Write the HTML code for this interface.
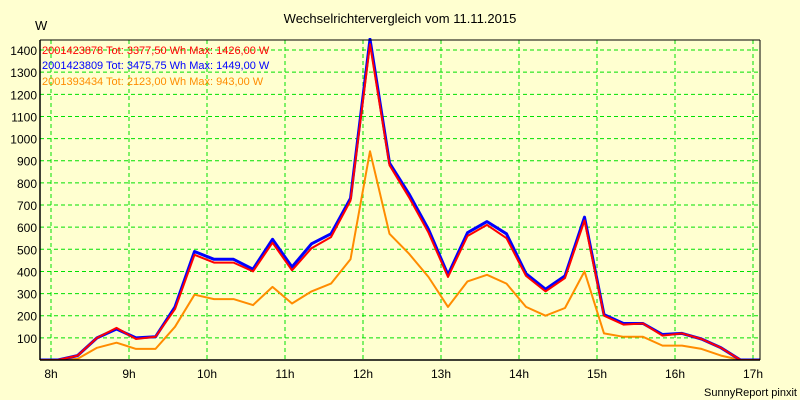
<!DOCTYPE html>
<html><head><meta charset="utf-8"><style>
body{margin:0;background:#ffffd0;}
svg{display:block;font-family:"Liberation Sans",sans-serif;}
</style></head><body>
<svg width="800" height="400" id="c">
<rect x="0" y="0" width="800" height="400" fill="#ffffd0"/>
<text x="400" y="23" text-anchor="middle" font-size="13" fill="#000">Wechselrichtervergleich vom 11.11.2015</text>
<text x="35" y="30" font-size="13" fill="#000">W</text>
<text x="797" y="396" text-anchor="end" font-size="11" fill="#000">SunnyReport pinxit</text>
<g id="grid"></g><g id="ticks"></g>
<clipPath id="cl"><rect x="40" y="38" width="720" height="322"/></clipPath>
<g id="series" clip-path="url(#cl)"></g>
<line x1="40" y1="40" x2="40" y2="360" stroke="#000" stroke-width="1.5"/>
<line x1="40" y1="360" x2="760" y2="360" stroke="#000" stroke-width="1.5"/>
<line x1="760" y1="40" x2="760" y2="360" stroke="#000" stroke-width="1"/>
<line x1="40" y1="40" x2="760" y2="40" stroke="#000" stroke-width="1"/>
<g font-size="11">
<text x="42" y="54" fill="#ff0000">2001423878 Tot: 3377,50 Wh Max: 1426,00 W</text>
<text x="42" y="69" fill="#0000ff">2001423809 Tot: 3475,75 Wh Max: 1449,00 W</text>
<text x="42" y="85" fill="#ff8c00">2001393434 Tot: 2123,00 Wh Max: 943,00 W</text>
</g>
</svg>
<script>
const hourLabels=["8h","9h","10h","11h","12h","13h","14h","15h","16h","17h"];
const yTicks=[100,200,300,400,500,600,700,800,900,1000,1100,1200,1300,1400];
const redValues=[0,0,20,100,145,95,105,230,475,440,440,400,530,405,505,555,720,1426,880,735,575,375,560,610,550,380,310,370,630,200,160,165,110,120,95,55,0,0];
const blueValues=[0,0,20,100,140,100,105,240,490,455,455,410,545,420,525,570,730,1449,890,750,590,385,575,625,570,390,320,380,645,205,165,165,115,120,95,55,0,0];
const orangeValues=[0,0,5,55,78,50,50,150,295,275,275,248,330,255,310,345,455,943,570,480,375,240,355,385,345,240,200,235,400,120,105,105,65,65,50,20,0,0];
const X0=51,HW=78,Y0=360,PY=0.2214;
const xHour=h=>X0+h*HW;
const xIdx=i=>58+(i-1)*19.5;
const yv=v=>Y0-v*PY;
const NS="http://www.w3.org/2000/svg";
const grid=document.getElementById('grid'),ticks=document.getElementById('ticks'),ser=document.getElementById('series');
function mk(tag,at,par){const e=document.createElementNS(NS,tag);for(const k in at)e.setAttribute(k,at[k]);par.appendChild(e);return e;}
hourLabels.forEach((l,i)=>{
 const g=mk('line',{x1:xHour(i),x2:xHour(i),y1:40,y2:360,stroke:'#00e000','stroke-dasharray':'4,3','stroke-width':1},grid);
 
 
 const t=mk('text',{x:xHour(i),y:378,'text-anchor':'middle','font-size':12,fill:'#000'},ticks);
 t.textContent=l;
 
 
});
yTicks.forEach(v=>{
 const g=mk('line',{x1:40,x2:760,y1:yv(v),y2:yv(v),stroke:'#00e000','stroke-dasharray':'4,3','stroke-width':1},grid);
 
 
 const t=mk('text',{x:37,y:yv(v)+5,'text-anchor':'end','font-size':12,fill:'#000'},ticks);
 t.textContent=v;
 
 
});
function line(vals,color,w,name){
 const p=vals.map((v,i)=>(i?'L':'M')+xIdx(i).toFixed(1)+','+yv(v).toFixed(1)).join(' ');
 const e=mk('path',{d:p,fill:'none',stroke:color,'stroke-width':w,'stroke-linejoin':'round'},ser);
 
 
}
line(orangeValues,'#ff8c00',2,'series-orange');
line(blueValues,'#0000ff',3,'series-blue');
line(redValues,'#ff0000',2,'series-red');
</script>
</body></html>
